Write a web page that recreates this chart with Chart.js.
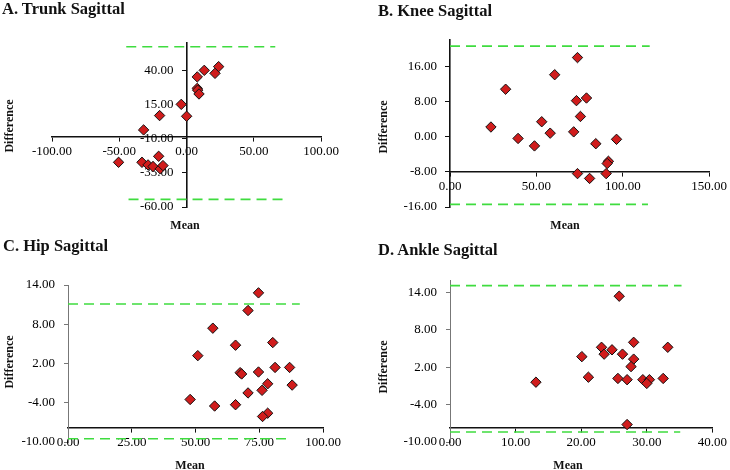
<!DOCTYPE html>
<html>
<head>
<meta charset="utf-8">
<script src="https://cdn.jsdelivr.net/npm/chart.js@4.4.1/dist/chart.umd.min.js"></script>
<style>
  body { margin: 0; background: #fff; width: 730px; height: 470px; position: relative; overflow: hidden;
         font-family: "Liberation Serif", "Times New Roman", serif; color: #111; }
  .panel { position: absolute; width: 365px; height: 235px; }
  .title { position: absolute; font-weight: bold; font-size: 16.5px; line-height: 17px; white-space: nowrap; }
  .ytitle, .xtitle { position: absolute; font-weight: bold; font-size: 12px; line-height: 12px; white-space: nowrap;
                     transform: translate(-50%, -50%); }
  .ytitle { transform: translate(-50%, -50%) rotate(-90deg); }
</style>
</head>
<body>
<div class="panel" style="left:0;top:0"><canvas id="trunk" width="365" height="235"></canvas></div>
<div class="panel" style="left:365px;top:0"><canvas id="knee" width="365" height="235"></canvas></div>
<div class="panel" style="left:0;top:235px"><canvas id="hip" width="365" height="235"></canvas></div>
<div class="panel" style="left:365px;top:235px"><canvas id="ankle" width="365" height="235"></canvas></div>

<div class="title" style="left:2px;top:0">A. Trunk Sagittal</div>
<div class="title" style="left:378px;top:2px">B. Knee Sagittal</div>
<div class="title" style="left:3px;top:237px">C. Hip Sagittal</div>
<div class="title" style="left:378px;top:241px">D. Ankle Sagittal</div>

<div class="ytitle" style="left:9px;top:126px">Difference</div>
<div class="xtitle" style="left:185px;top:225px">Mean</div>
<div class="ytitle" style="left:383px;top:127px">Difference</div>
<div class="xtitle" style="left:565px;top:225px">Mean</div>
<div class="ytitle" style="left:9px;top:362px">Difference</div>
<div class="xtitle" style="left:190px;top:465px">Mean</div>
<div class="ytitle" style="left:383px;top:367px">Difference</div>
<div class="xtitle" style="left:568px;top:465px">Mean</div>

<script>
// A. Trunk
const trunkMean = [23.9, 13.2, 21.2, 8.0, 8.0, 8.3, 9.3, -3.9, 0.1, -20.0, -31.9, -50.5, -33.1, -28.6, -24.9, -20.7, -19.5, -17.5];
const trunkDiff = [42.7, 40.0, 37.8, 35.2, 26.8, 25.5, 22.7, 15.1, 6.4, 6.9, -3.6, -27.3, -27.3, -29.2, -30.4, -22.9, -32.1, -29.7];
const trunkXTicks = [-100, -50, 0, 50, 100];
const trunkYTicks = [-60, -35, -10, 15, 40];
const trunkLimits = [57.3, -54.4];
const trunkLimitStart = [-44.8, -43.1];
const trunkLimitEnd = [66, 73.5];

// B. Knee
const kneeMean = [73.8, 60.6, 32.2, 79.0, 73.2, 75.5, 53.1, 23.7, 58.0, 71.6, 39.4, 96.4, 84.4, 48.9, 91.7, 91.0, 73.8, 90.4, 80.8];
const kneeDiff = [18.0, 14.1, 10.8, 8.8, 8.2, 4.6, 3.4, 2.2, 0.8, 1.1, -0.4, -0.6, -1.6, -2.1, -5.6, -6.1, -8.4, -8.4, -9.5];
const kneeXTicks = [0, 50, 100, 150];
const kneeYTicks = [-16, -8, 0, 8, 16];
const kneeLimits = [20.6, -15.4];
const kneeLimitStart = [0, 0];
const kneeLimitEnd = [115.6, 114.6];

// C. Hip
const hipMean = [74.7, 70.6, 56.8, 65.7, 80.3, 50.9, 81.2, 86.9, 67.5, 68.1, 74.7, 78.3, 87.9, 76.1, 70.6, 47.9, 57.5, 65.7, 78.3, 76.3];
const hipDiff = [12.8, 10.1, 7.4, 4.8, 5.2, 3.2, 1.4, 1.4, 0.6, 0.4, 0.7, -1.1, -1.3, -2.1, -2.5, -3.5, -4.5, -4.3, -5.6, -6.1];
const hipXTicks = [0, 25, 50, 75, 100];
const hipYTicks = [-10, -4, 2, 8, 14];
const hipLimits = [11.1, -9.5];
const hipLimitStart = [0, 0];
const hipLimitEnd = [90.9, 85.7];

// D. Ankle
const ankleMean = [25.8, 28.0, 23.1, 24.7, 33.2, 20.1, 23.5, 26.3, 28.0, 27.6, 21.1, 25.6, 27.0, 29.4, 30.4, 30.0, 32.5, 13.1, 27.0];
const ankleDiff = [13.4, 6.0, 5.2, 4.8, 5.2, 3.7, 4.1, 4.1, 3.3, 2.1, 0.4, 0.2, 0.0, 0.0, 0.0, -0.6, 0.2, -0.4, -7.2];
const ankleXTicks = [0, 10, 20, 30, 40];
const ankleYTicks = [-10, -4, 2, 8, 14];
const ankleLimits = [15.1, -8.4];
const ankleLimitStart = [0, 0];
const ankleLimitEnd = [35.3, 35.1];

const TICK_FONT = { family: '"Liberation Serif", "Times New Roman", serif', size: 13 };
const MARKER = '#d01c1c';
const LIMIT = '#3fdc3f';

function makePanel(id, p) {
  const points = p.mean.map((m, i) => ({ x: m, y: p.diff[i] }));
  const limitSets = p.limits.map((v, i) => ({
    data: [{ x: p.limitStart[i], y: v }, { x: p.limitEnd[i], y: v }],
    showLine: true,
    borderColor: LIMIT,
    borderWidth: 1.6,
    borderDash: [10, 6],
    pointRadius: 0,
    clip: false,
  }));

  new Chart(document.getElementById(id), {
    type: 'scatter',
    data: {
      datasets: [
        ...limitSets,
        {
          data: points,
          pointStyle: 'rectRot',
          pointRadius: 5.2,
          backgroundColor: MARKER,
          borderColor: '#111',
          borderWidth: 1,
          clip: false,
        },
      ]
    },
    options: {
      responsive: false,
      animation: false,
      devicePixelRatio: 1,
      layout: { padding: p.pad },
      plugins: { legend: { display: false }, tooltip: { enabled: false } },
      scales: {
        x: {
          type: 'linear', min: p.xMin, max: p.xMax,
          position: { y: p.crossY },
          afterBuildTicks: s => { s.ticks = p.xTicks.map(v => ({ value: v })); },
          ticks: { autoSkip: false, maxRotation: 0, padding: 3, font: TICK_FONT, color: '#000',
                   callback: v => v.toFixed(2) },
          grid: { display: true, drawOnChartArea: false, drawTicks: true, tickLength: 4, color: '#111', lineWidth: 1 },
          border: { display: true, color: '#111', width: 1.6 },
        },
        y: {
          type: 'linear', min: p.yMin, max: p.yMax,
          position: { x: p.crossX },
          afterBuildTicks: s => { s.ticks = p.yTicks.map(v => ({ value: v })); },
          ticks: { autoSkip: false, font: TICK_FONT, color: '#000',
                   callback: v => v.toFixed(2) + '    ' },
          grid: { display: true, drawOnChartArea: false, drawTicks: true, tickLength: 4, color: p.yColor, lineWidth: 1 },
          border: { display: true, color: p.yColor, width: p.yWidth },
        }
      }
    }
  });
}

makePanel('trunk', {
  mean: trunkMean, diff: trunkDiff, xTicks: trunkXTicks, yTicks: trunkYTicks,
  limits: trunkLimits, limitStart: trunkLimitStart, limitEnd: trunkLimitEnd,
  xMin: -100, xMax: 100, yMin: -60, yMax: 60, crossY: -8.5, crossX: 0,
  pad: { left: 52, right: 44, top: 43, bottom: 28 }, yColor: '#111', yWidth: 1.6,
});
makePanel('knee', {
  mean: kneeMean, diff: kneeDiff, xTicks: kneeXTicks, yTicks: kneeYTicks,
  limits: kneeLimits, limitStart: kneeLimitStart, limitEnd: kneeLimitEnd,
  xMin: 0, xMax: 150, yMin: -16, yMax: 22, crossY: -8, crossX: 0,
  pad: { left: 85, right: 18, top: 40, bottom: 28 }, yColor: '#111', yWidth: 1.6,
});
makePanel('hip', {
  mean: hipMean, diff: hipDiff, xTicks: hipXTicks, yTicks: hipYTicks,
  limits: hipLimits, limitStart: hipLimitStart, limitEnd: hipLimitEnd,
  xMin: 0, xMax: 100, yMin: -10, yMax: 14, crossY: -7.9, crossX: 0,
  pad: { left: 68, right: 42, top: 50, bottom: 28 }, yColor: '#777', yWidth: 1,
});
makePanel('ankle', {
  mean: ankleMean, diff: ankleDiff, xTicks: ankleXTicks, yTicks: ankleYTicks,
  limits: ankleLimits, limitStart: ankleLimitStart, limitEnd: ankleLimitEnd,
  xMin: 0, xMax: 40, yMin: -10, yMax: 16, crossY: -7.7, crossX: 0,
  pad: { left: 85, right: 16, top: 45, bottom: 28 }, yColor: '#777', yWidth: 1,
});
</script>
</body>
</html>
